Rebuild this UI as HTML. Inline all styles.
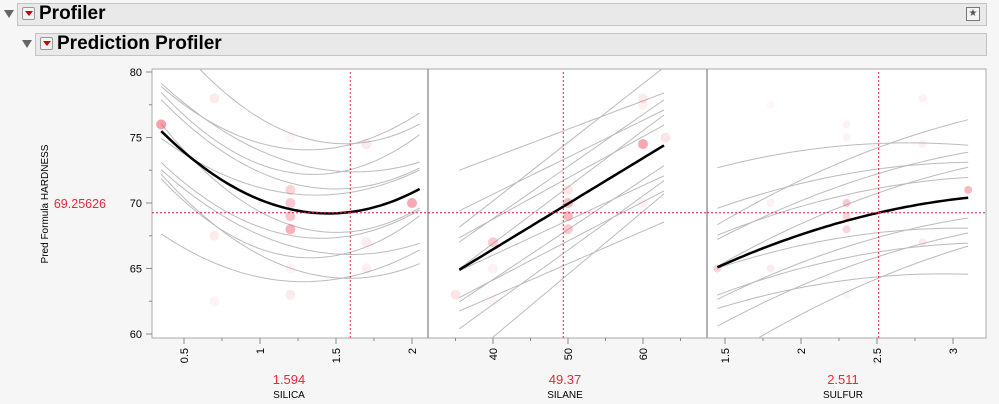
<!DOCTYPE html>
<html><head><meta charset="utf-8"><style>
body{margin:0;background:#f6f6f6;font-family:"Liberation Sans",sans-serif;width:999px;height:404px;overflow:hidden;position:relative}
.bar{position:absolute;background:#e9e9e9;border:1px solid #c4c4c4;box-sizing:border-box}
.t{position:absolute;font-weight:bold;color:#000}
.btn{position:absolute;width:13px;height:13px;border:1px solid #999;border-radius:2px;background:#f4f4f4;box-sizing:border-box}
.btn:after{content:"";position:absolute;left:2px;top:3px;border-left:4px solid transparent;border-right:4px solid transparent;border-top:5px solid #c00}
.tri{position:absolute;width:0;height:0;border-left:5px solid transparent;border-right:5px solid transparent;border-top:8px solid #666}
</style></head><body>
<div class="tri" style="left:4px;top:10px"></div>
<div class="bar" style="left:17px;top:3px;width:970px;height:23px"></div>
<div class="btn" style="left:22px;top:7px"></div>
<div class="t" style="left:39px;top:3px;font-size:19px">Profiler</div>
<div style="position:absolute;left:966px;top:7px;width:12px;height:12px;border:1px solid #777;background:#f4f4f4;font-size:10px;line-height:12px;text-align:center;color:#555">★</div>
<div class="tri" style="left:22px;top:40px"></div>
<div class="bar" style="left:35px;top:33px;width:952px;height:23px"></div>
<div class="btn" style="left:40px;top:37px"></div>
<div class="t" style="left:57px;top:33px;font-size:19px">Prediction Profiler</div>
<svg id="s" width="999" height="404" style="position:absolute;left:0;top:0" font-family="Liberation Sans, sans-serif"></svg>
<script>
const s=document.getElementById('s');let h='';
const Y=v=>72+(80-v)*13.1;
h+='<rect x="152" y="69" width="834" height="269" fill="#fff" stroke="#aaa"/>';
h+='<line x1="428" y1="69" x2="428" y2="338" stroke="#999" stroke-width="1.5"/><line x1="707" y1="69" x2="707" y2="338" stroke="#999" stroke-width="1.5"/>';
[60,65,70,75,80].forEach(v=>{h+=`<line x1="146" x2="152" y1="${Y(v)}" y2="${Y(v)}" stroke="#888"/><text x="142" y="${Y(v)+4}" font-size="11" text-anchor="end">${v}</text>`});
[62.5,67.5,72.5,77.5].forEach(v=>{h+=`<line x1="149" x2="152" y1="${Y(v)}" y2="${Y(v)}" stroke="#888"/>`});
h+=`<text transform="translate(48,204) rotate(-90)" font-size="10" text-anchor="middle">Pred Formula HARDNESS</text>`;
h+=`<text x="106" y="208" font-size="12.5" fill="#e8283c" text-anchor="end">69.25626</text>`;
const P=[
 {x0:152,x1:428,a:0.5,pu:152,p0:184,lo:.35,hi:2.05,ticks:[.5,1,1.5,2],minor:.25,f:x=>5.2*(x-1.45)**2+69.2,cur:1.594,lab:'SILICA',val:'1.594',cx:289,curv:1,
  pts:[[.35,76,.55,5],[.7,78,.12,5],[.7,67.5,.12,5],[.7,62.5,.07,5],[1.2,71,.25,5],[1.2,70,.3,5],[1.2,69,.35,5],[1.2,68,.45,5],[1.2,65,.08,5],[1.2,63,.12,5],[1.2,75,.06,5],[1.7,74.5,.12,5],[1.7,67,.12,5],[1.7,65,.1,5],[2.0,70,.5,5]]},
 {x0:428,x1:707,a:40,pu:7.5,p0:493,lo:35.5,hi:62.8,ticks:[40,50,60],minor:5,f:x=>64.9+(x-35.5)*9.5/27.3,cur:49.37,lab:'SILANE',val:'49.37',cx:565,curv:0,
  pts:[[35,63,.15,5],[40,67,.3,5],[40,65,.08,5],[40,62.5,.06,5],[50,70,.4,5],[50,69,.4,5],[50,68,.3,5],[50,71,.15,5],[60,74.5,.5,5],[60,78,.12,5],[60,77.5,.08,5],[60,70,.08,5],[63,75,.15,5]]},
 {x0:707,x1:986,a:1.5,pu:152,p0:725,lo:1.45,hi:3.1,ticks:[1.5,2,2.5,3],minor:.25,f:x=>65+(x-1.45)*5.2-1.2*(x-1.45)**2+0,cur:2.511,lab:'SULFUR',val:'2.511',cx:843,curv:0,
  pts:[[1.45,65,.25,4],[1.8,70,.08,4],[1.8,65,.12,4],[1.8,77.5,.06,4],[2.3,70,.3,4],[2.3,69,.25,4],[2.3,68,.25,4],[2.3,76,.08,4],[2.3,75,.08,4],[2.3,63,.06,4],[2.8,78,.08,4],[2.8,74.5,.08,4],[2.8,67,.12,4],[3.1,71,.4,4]]}
];
{const f0=P[2].f;const d=69.26-f0(2.511);P[2].f=x=>f0(x)+d;}
const offs=[-5.5,-4.5,-3.6,-2.8,-2,-1.2,1.2,2,2.8,3.6,4.6,5.8];
const slopes=[.8,-.6,.4,-.3,.2,-.5,.5,-.2,.3,-.4,.6,-.8];
P.forEach((p,i)=>{
 const X=v=>p.p0+(v-p.a)*p.pu;
 h+=`<clipPath id="c${i}"><rect x="${p.x0}" y="69" width="${p.x1-p.x0}" height="269"/></clipPath><g clip-path="url(#c${i})">`;
 const mid=(p.lo+p.hi)/2,span=p.hi-p.lo;
 offs.forEach((o,k)=>{let d='';for(let j=0;j<=40;j++){const x=p.lo+span*j/40;const u=(x-mid)/span;
   let v=p.f(x)+o+slopes[k]*u*(p.curv?4:4.5)+(p.curv?(k%3-1)*3*u*u:0);d+=(j?'L':'M')+X(x).toFixed(1)+','+Y(v).toFixed(1);}
   h+=`<path d="${d}" fill="none" stroke="#bbb" stroke-width="1"/>`;});
 p.pts.forEach(q=>{h+=`<circle cx="${X(q[0])}" cy="${Y(q[1])}" r="${q[3]}" fill="rgba(240,80,100,${q[2]})"/>`});
 let d='';for(let j=0;j<=60;j++){const x=p.lo+span*j/60;d+=(j?'L':'M')+X(x).toFixed(1)+','+Y(p.f(x)).toFixed(1);}
 h+=`<path d="${d}" fill="none" stroke="#000" stroke-width="2.5"/>`;
 h+=`<line x1="${X(p.cur)}" x2="${X(p.cur)}" y1="72" y2="338" stroke="#e8283c" stroke-dasharray="2,2"/>`;
 h+=`<line x1="${p.x0}" x2="${p.x1}" y1="${Y(69.256)}" y2="${Y(69.256)}" stroke="#c0283c" stroke-dasharray="2,2"/></g>`;
 for(let v=p.ticks[0]-p.minor*2;v<=p.ticks[p.ticks.length-1]+p.minor*2;v+=p.minor){const x=X(v);if(x<p.x0+2||x>p.x1-2)continue;
   const major=p.ticks.some(t=>Math.abs(t-v)<1e-6);h+=`<line x1="${x}" x2="${x}" y1="338" y2="${major?344:341}" stroke="#888"/>`;}
 p.ticks.forEach(t=>{const x=X(t);h+=`<text transform="translate(${x+4},348) rotate(-90)" font-size="11" text-anchor="end">${t}</text>`});
 h+=`<text x="${p.cx}" y="384" font-size="13" fill="#e8283c" text-anchor="middle">${p.val}</text>`;
 h+=`<text x="${p.cx}" y="398" font-size="10" text-anchor="middle">${p.lab}</text>`;
});
s.innerHTML=h;
</script>
</body></html>
